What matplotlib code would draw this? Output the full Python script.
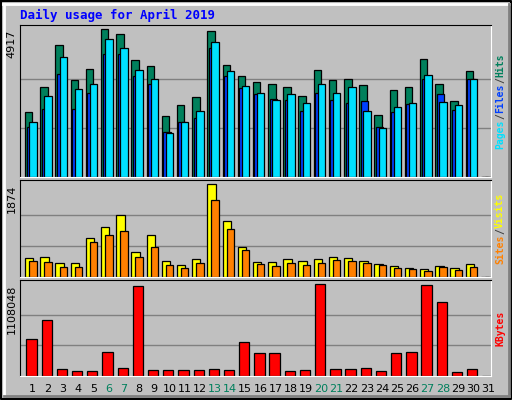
import matplotlib
matplotlib.use("Agg")
import matplotlib.pyplot as plt
from matplotlib.lines import Line2D

days = list(range(1, 32))
weekend_days = [6, 7, 13, 14, 20, 21, 27, 28]

hits = [2180, 2980, 4381, 3214, 3581, 4917, 4748, 3881, 3681, 2046, 2413, 2647, 4848, 3714, 3347,
        3147, 3080, 2980, 2713, 3547, 3214, 3247, 3047, 2079, 2880, 2980, 3914, 3080, 2546, 3514, 0]
files = [1679, 2280, 3414, 2280, 2813, 4081, 4081, 3347, 3080, 1512, 1846, 1979, 4281, 3347, 2947,
         2747, 2613, 2580, 2213, 2813, 2580, 2480, 2546, 1679, 2180, 2446, 3247, 2747, 2246, 3247, 0]
pages = [1846, 2680, 3981, 2913, 3080, 4581, 4281, 3547, 3247, 1479, 1846, 2213, 4481, 3514, 3014,
         2813, 2580, 2747, 2480, 3080, 2813, 2980, 2213, 1646, 2346, 2480, 3380, 2513, 2413, 3247, 0]
visits = [392, 413, 291, 291, 798, 1001, 1245, 514, 839, 331, 250, 372, 1874, 1123, 616,
          311, 311, 372, 331, 372, 413, 392, 331, 271, 230, 189, 169, 230, 189, 271, 0]
sites = [331, 311, 210, 210, 717, 839, 920, 413, 616, 250, 189, 291, 1549, 961, 555,
         271, 230, 291, 250, 291, 352, 331, 291, 250, 189, 169, 129, 210, 149, 210, 0]
kb_h = [112, 166, 22, 16, 16, 73, 25, 268, 19, 19, 19, 19, 22, 19, 103,
        70, 70, 16, 19, 274, 22, 22, 25, 16, 70, 73, 271, 220, 13, 22, 0]
kbytes = [round(h * 1108048 / 274) for h in kb_h]

BG = "#C0C0C0"
W, H = 512, 400
fig = plt.figure(figsize=(5.12, 4.0), dpi=100)
fig.patch.set_facecolor(BG)
MONO = "DejaVu Sans Mono"
RFS = 7


def px_ax(x0, y0, x1, y1):
    return fig.add_axes([x0 / W, 1 - y1 / H, (x1 - x0) / W, (y1 - y0) / H])


def panel(y0, y1, maxval, series, right_parts):
    ax = px_ax(20, y0, 491, y1)
    ax.set_facecolor(BG)
    ax.set_xlim(0.5, 31.5)
    span = (y1 - y0) - 4.3
    ax.set_ylim(0, maxval * (y1 - y0) / span)
    for k in (1, 2):
        ax.axhline(maxval * k / 3, color="#808080", lw=1, zorder=0)
    for vals, off, width, color in series:
        ax.bar([d - 0.5 + off for d in days], vals, width=width, align="edge",
               color=color, edgecolor="black", linewidth=0.9, zorder=2)
    ax.set_xticks([])
    ax.set_yticks([])
    for s in ("top", "left"):
        ax.spines[s].set_color("black")
    for s in ("bottom", "right"):
        ax.spines[s].set_color("white")
    ax.text(-0.018, maxval, str(maxval), transform=ax.get_yaxis_transform(), rotation=90,
            ha="center", va="top", fontsize=8, family="DejaVu Sans")
    # right side legend, read bottom to top
    total = sum(len(t) for t, _ in right_parts)
    cw = RFS * 100 / 72 * 0.602 + 0.1
    yc = (y0 + y1) / 2
    start = yc + total * cw / 2
    pos = 0
    for t, c in right_parts:
        fig.text(500 / W, 1 - (start - pos * cw) / H, t, rotation=90, ha="center",
                 va="bottom", color=c, fontsize=RFS, family=MONO, fontweight="bold")
        pos += len(t)
    return ax


panel(25, 177, 4917,
      [(hits, 0.33, 0.49, "#00805C"), (files, 0.43, 0.49, "#0040FF"), (pages, 0.6, 0.49, "#00E0FF")],
      [("Pages", "#00E0FF"), ("/", "#404040"), ("Files", "#0040FF"), ("/", "#404040"), ("Hits", "#00805C")])
panel(180, 277, 1874,
      [(visits, 0.33, 0.55, "#FFFF00"), (sites, 0.6, 0.49, "#FF8000")],
      [("Sites", "#FF8000"), ("/", "#404040"), ("Visits", "#FFFF00")])
panel(280, 376, 1108048,
      [(kbytes, 0.42, 0.68, "#FF0000")],
      [("KBytes", "#FF0000")])

for d in days:
    x = 20 + (d - 0.5) * 471 / 31 + 5
    fig.text(x / W, 1 - 389 / H, str(d), ha="center", va="center", fontsize=8,
             color="#00805C" if d in weekend_days else "black")

fig.text(20 / W, 1 - 15 / H, "Daily usage for April 2019", ha="left", va="center",
         fontsize=9, family=MONO, fontweight="bold", color="#0000FF")


# outer 3D frame
def fl(xs, ys, c, lw=2):
    fig.add_artist(Line2D([x / W for x in xs], [1 - y / H for y in ys], color=c, lw=lw))


fl([1, 511, 511, 1, 1], [1, 1, 399, 399, 1], "black", 1.5)
fl([3, 509], [4, 4], "white")
fl([4, 4], [4, 396], "white")
fl([4, 509], [396, 396], "#808080")
fl([509, 509], [4, 396], "#808080")

fig.savefig("out.png", dpi=100, facecolor=BG)
